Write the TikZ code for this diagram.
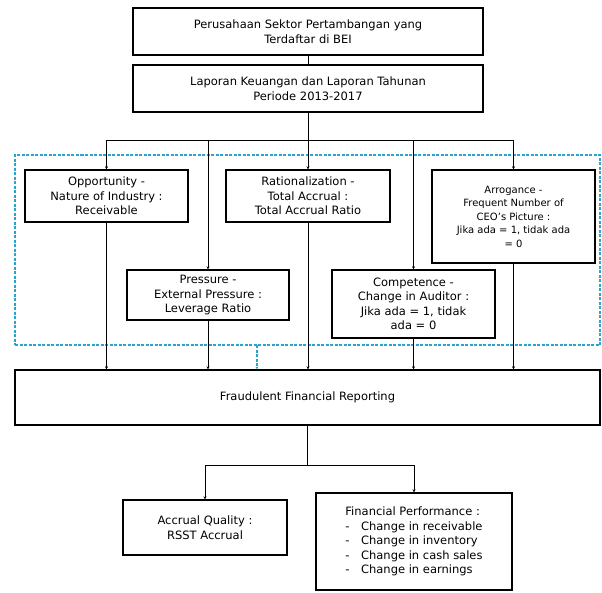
\documentclass[tikz,border=0pt]{standalone}
\usepackage{fontspec}
\setmainfont{DejaVu Sans}
\usetikzlibrary{arrows.meta}
\definecolor{dashblue}{RGB}{40,165,205}

\begin{document}
\begin{tikzpicture}[x=1pt,y=-1pt,
  every node/.style={draw,line width=1.4pt,align=center,inner sep=2pt,
    font=\fontsize{11.5}{14.5}\selectfont},
  line/.style={line width=0.8pt},
  arr/.style={line width=0.8pt,-{Stealth[length=3pt,width=3pt]}},
  grpline/.style={draw=dashblue,line width=1.1pt,dash pattern=on 3pt off 1.5pt}]
\useasboundingbox (0,0) rectangle (602,592);

\node[minimum width=350,minimum height=47] (per) at (308,31.5) {Perusahaan Sektor Pertambangan yang\\Terdaftar di BEI};
\node[minimum width=350,minimum height=47] (lap) at (308,88.5) {Laporan Keuangan dan Laporan Tahunan\\Periode 2013-2017};

\node[minimum width=163,minimum height=52] (opp) at (106.5,196) {Opportunity -\\Nature of Industry :\\Receivable};
\node[minimum width=164,minimum height=52] (rat) at (308,196) {Rationalization -\\Total Accrual :\\Total Accrual Ratio};
\node[minimum width=163,minimum height=93,font=\fontsize{10}{13.5}\selectfont] (arg) at (513.5,216.5) {Arrogance -\\Frequent Number of\\CEO's Picture :\\Jika ada = 1, tidak ada\\= 0};
\node[minimum width=162,minimum height=50] (pre) at (208,295) {Pressure -\\External Pressure :\\Leverage Ratio};
\node[minimum width=163,minimum height=68] (com) at (413.5,304) {Competence -\\Change in Auditor :\\Jika ada = 1, tidak\\ada = 0};

\node[minimum width=585,minimum height=55] (fra) at (307.5,397.5) {Fraudulent Financial Reporting};

\node[minimum width=164,minimum height=55] (acc) at (205,527.5) {Accrual Quality :\\RSST Accrual};
\node[minimum width=196,minimum height=97,align=left] (fin) at (414,541.5) {Financial Performance :\\-\quad Change in receivable\\-\quad Change in inventory\\-\quad Change in cash sales\\-\quad Change in earnings};

% dashed frame round the five factors
\node[grpline,minimum width=585,minimum height=190] (grp) at (307.5,250) {};

\coordinate (bus) at (308,140);
\coordinate (bus2) at (307.5,465);
\coordinate (grpout) at (257,345);

\draw[line] (per) -- (lap);
\draw[line] (lap) -- (bus);
\draw[line] (opp.north |- bus) -- (arg.north |- bus);
\draw[arr] (opp.north |- bus) -- (opp);
\draw[arr] (pre.north |- bus) -- (pre);
\draw[arr] (bus) -- (rat);
\draw[arr] (com.north |- bus) -- (com);
\draw[arr] (arg.north |- bus) -- (arg);

\draw[arr] (opp) -- (opp.south |- fra.north);
\draw[arr] (pre) -- (pre.south |- fra.north);
\draw[arr] (rat) -- (rat.south |- fra.north);
\draw[arr] (com) -- (com.south |- fra.north);
\draw[arr] (arg) -- (arg.south |- fra.north);
\draw[arr,grpline] (grpout) -- (grpout |- fra.north);

\draw[line] (fra) -- (bus2);
\draw[line] (acc.north |- bus2) -- (fin.north |- bus2);
\draw[arr] (acc.north |- bus2) -- (acc);
\draw[arr] (fin.north |- bus2) -- (fin);
\end{tikzpicture}
\end{document}
